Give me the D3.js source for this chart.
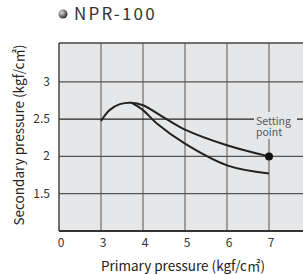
<!DOCTYPE html>
<html>
<head>
<meta charset="utf-8">
<script src="https://cdn.jsdelivr.net/npm/d3@7"></script>
<style>
  body { margin: 0; background: #fff; }
  text { font-family: "Noto Sans CJK JP", "Noto Sans", sans-serif; }
</style>
</head>
<body>
<svg width="303" height="275"></svg>
<script>
// Data (x: primary pressure, y: secondary pressure)
var xTicks = [2, 3, 4, 5, 6, 7];
var xTickLabels = ["0", "3", "4", "5", "6", "7"];
var yTicks = [1.5, 2, 2.5, 3];
var yTickLabels = ["1.5", "2", "2.5", "3"];

var upperX = [3, 3.2, 3.45, 3.72, 4, 4.5, 5, 6, 7];
var upperY = [2.475, 2.62, 2.7, 2.72, 2.685, 2.52, 2.36, 2.15, 2.0];
var lowerX = [3.72, 4, 4.33, 5, 6, 7];
var lowerY = [2.72, 2.62, 2.44, 2.17, 1.88, 1.77];
var settingPoint = [7, 2];

var svg = d3.select("svg");

var pLeft = 59, pRight = 311, pTop = 43, pBottom = 231;

var x = d3.scaleLinear().domain([2, 8]).range([pLeft, pRight]);
var y = d3.scaleLinear().domain([1, 3.52]).range([pBottom, pTop]);

// Title
var defs = svg.append("defs");
var grad = defs.append("radialGradient").attr("id", "ball")
    .attr("cx", "35%").attr("cy", "35%").attr("r", "65%");
grad.append("stop").attr("offset", "0%").attr("stop-color", "#ddd");
grad.append("stop").attr("offset", "100%").attr("stop-color", "#333");

svg.append("circle").attr("cx", 63).attr("cy", 14).attr("r", 4.5)
    .attr("fill", "url(#ball)");
svg.append("text").attr("x", 74).attr("y", 19.5)
    .attr("font-size", 17).attr("letter-spacing", 2.2).attr("fill", "#333")
    .text("NPR-100");

// Panel
svg.append("rect").attr("x", pLeft).attr("y", pTop)
    .attr("width", pRight - pLeft).attr("height", pBottom - pTop)
    .attr("fill", "#e6e7e8");

// Vertical grid
svg.selectAll(".vgrid")
    .data(xTicks.slice(1).concat([8]))
  .enter().append("line")
    .attr("x1", function(d) { return x(d); })
    .attr("x2", function(d) { return x(d); })
    .attr("y1", pTop).attr("y2", pBottom)
    .attr("stroke", "#6d6d6d").attr("stroke-width", 1.2);

// Horizontal grid
svg.selectAll(".hgrid")
    .data(yTicks)
  .enter().append("line")
    .attr("x1", pLeft).attr("x2", pRight)
    .attr("y1", function(d) { return y(d); })
    .attr("y2", function(d) { return y(d); })
    .attr("stroke", function(d) { return d === 2.5 ? "#222" : "#555"; })
    .attr("stroke-width", 1.2);

// Frame
svg.append("line").attr("x1", pLeft).attr("x2", pRight).attr("y1", pTop).attr("y2", pTop)
    .attr("stroke", "#444").attr("stroke-width", 1.5);
svg.append("line").attr("x1", pLeft).attr("x2", pLeft).attr("y1", pTop).attr("y2", pBottom)
    .attr("stroke", "#444").attr("stroke-width", 1.5);
svg.append("line").attr("x1", pLeft).attr("x2", pRight).attr("y1", pBottom).attr("y2", pBottom)
    .attr("stroke", "#333").attr("stroke-width", 1.8);

// Tick labels
svg.selectAll(".xl")
    .data(xTicks)
  .enter().append("text")
    .attr("x", function(d) { return x(d) + 2; })
    .attr("y", 247)
    .attr("text-anchor", "middle")
    .attr("font-size", 12).attr("fill", "#333")
    .text(function(d, i) { return xTickLabels[i]; });

svg.selectAll(".yl")
    .data(yTicks)
  .enter().append("text")
    .attr("x", 50)
    .attr("y", function(d) { return y(d) + 4; })
    .attr("text-anchor", "end")
    .attr("font-size", 12).attr("fill", "#333")
    .text(function(d, i) { return yTickLabels[i]; });

// Axis titles
svg.append("text")
    .attr("x", 183).attr("y", 271)
    .attr("text-anchor", "middle")
    .attr("font-size", 13.5).attr("fill", "#222")
    .text("Primary pressure (kgf/c㎡)");

svg.append("text")
    .attr("transform", "translate(24,135) rotate(-90)")
    .attr("text-anchor", "middle")
    .attr("font-size", 13.5).attr("fill", "#222")
    .text("Secondary pressure (kgf/c㎡)");

// Curves
var line = d3.line()
    .x(function(d) { return x(d[0]); })
    .y(function(d) { return y(d[1]); })
    .curve(d3.curveCatmullRom.alpha(0.5));

svg.append("path")
    .datum(upperX.map(function(v, i) { return [v, upperY[i]]; }))
    .attr("d", line)
    .attr("fill", "none").attr("stroke", "#222").attr("stroke-width", 2);

svg.append("path")
    .datum(lowerX.map(function(v, i) { return [v, lowerY[i]]; }))
    .attr("d", line)
    .attr("fill", "none").attr("stroke", "#222").attr("stroke-width", 2);

// Setting point label on a panel-coloured patch
svg.append("rect")
    .attr("x", 254).attr("y", 112).attr("width", 43).attr("height", 27)
    .attr("fill", "#e6e7e8");
svg.append("text").attr("x", 256).attr("y", 124.5)
    .attr("font-size", 10.5).attr("fill", "#555").text("Setting");
svg.append("text").attr("x", 256).attr("y", 136)
    .attr("font-size", 10.5).attr("fill", "#555").text("point");

svg.append("circle")
    .attr("cx", x(settingPoint[0])).attr("cy", y(settingPoint[1]))
    .attr("r", 4).attr("fill", "#111");
</script>
</body>
</html>
